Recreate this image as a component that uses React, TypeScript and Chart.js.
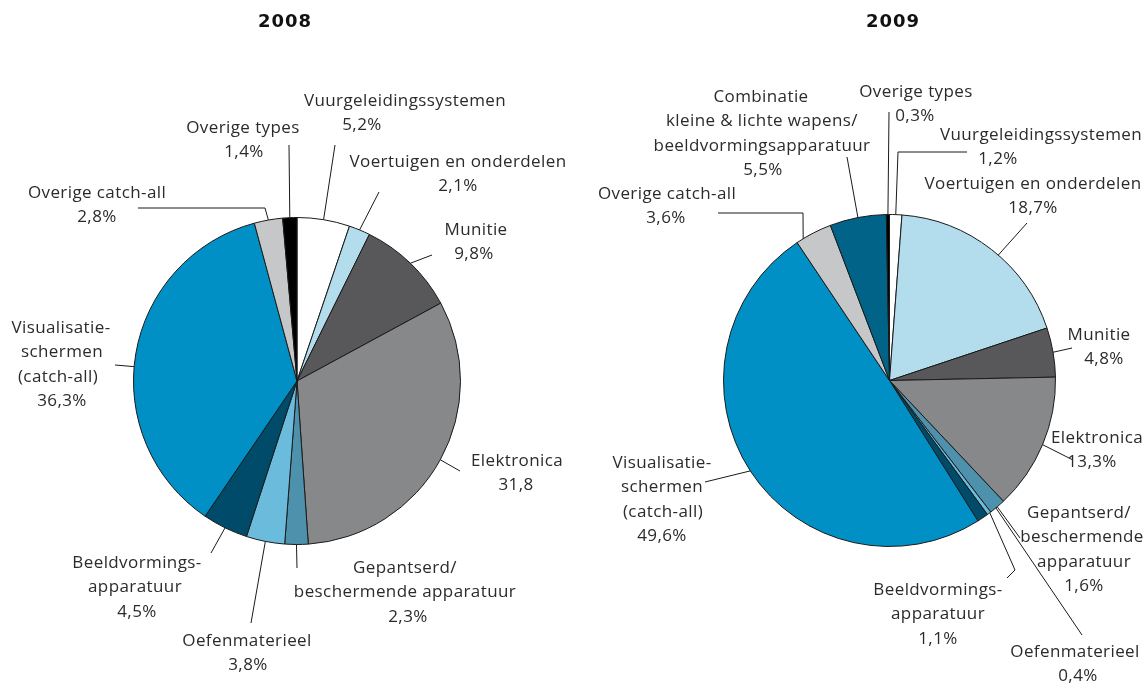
import React, { useEffect, useRef } from 'react';
import { Chart, registerables } from 'chart.js';

Chart.register(...registerables);

// ---------- DATA ----------
const title2008 = '2008';
const categories2008 = [
  'Vuurgeleidingssystemen', 'Voertuigen en onderdelen', 'Munitie', 'Elektronica',
  'Gepantserd/beschermende apparatuur', 'Oefenmaterieel', 'Beeldvormingsapparatuur',
  'Visualisatieschermen (catch-all)', 'Overige catch-all', 'Overige types',
];
const values2008 = [5.2, 2.1, 9.8, 31.8, 2.3, 3.8, 4.5, 36.3, 2.8, 1.4];
const names2008 = [
  ['Vuurgeleidingssystemen'],
  ['Voertuigen en onderdelen'],
  ['Munitie'],
  ['Elektronica'],
  ['Gepantserd/', 'beschermende apparatuur'],
  ['Oefenmaterieel'],
  ['Beeldvormings-', 'apparatuur'],
  ['Visualisatie-', 'schermen', '(catch-all)'],
  ['Overige catch-all'],
  ['Overige types'],
];

const title2009 = '2009';
const categories2009 = [
  'Vuurgeleidingssystemen', 'Voertuigen en onderdelen', 'Munitie', 'Elektronica',
  'Gepantserd/beschermende apparatuur', 'Oefenmaterieel', 'Beeldvormingsapparatuur',
  'Visualisatieschermen (catch-all)', 'Overige catch-all',
  'Combinatie kleine & lichte wapens/beeldvormingsapparatuur', 'Overige types',
];
const values2009 = [1.2, 18.7, 4.8, 13.3, 1.6, 0.4, 1.1, 49.6, 3.6, 5.5, 0.3];
const names2009 = [
  ['Vuurgeleidingssystemen'],
  ['Voertuigen en onderdelen'],
  ['Munitie'],
  ['Elektronica'],
  ['Gepantserd/', 'beschermende', 'apparatuur'],
  ['Oefenmaterieel'],
  ['Beeldvormings-', 'apparatuur'],
  ['Visualisatie-', 'schermen', '(catch-all)'],
  ['Overige catch-all'],
  ['Combinatie', 'kleine & lichte wapens/', 'beeldvormingsapparatuur'],
  ['Overige types'],
];

// ---------- STYLE / LAYOUT ----------
const W = 1145;
const H = 683;
const TEXT = '#2b2b2b';
const LINE = '#1a1a1a';
const FONT = '17px "Open Sans", "Noto Sans", sans-serif';
const TITLE_FONT = 'bold 18px "DejaVu Sans", sans-serif';
const LH = 24.5;

const colors2008 = ['#ffffff', '#b3dcec', '#58585a', '#87888a', '#4e91ad', '#6bbcdc', '#004b6a', '#0090c5', '#c6c7c8', '#000000'];
const colors2009 = ['#ffffff', '#b3dcec', '#58585a', '#87888a', '#4e91ad', '#6bbcdc', '#004b6a', '#0090c5', '#c6c7c8', '#006387', '#000000'];

type Lay = { x: number[]; y: number; pts: number[][]; da?: number; noPct?: boolean };

const layout2008: Lay[] = [
  { x: [405, 362], y: 101, pts: [[335, 145]] },
  { x: [458, 458], y: 162, pts: [[379, 192]] },
  { x: [476, 474], y: 230, pts: [[432, 255]] },
  { x: [517, 516], y: 461, pts: [[460, 471]], noPct: true },
  { x: [405, 405, 408], y: 568, pts: [[297, 568]] },
  { x: [247, 248], y: 641, pts: [[251, 623]] },
  { x: [137, 135, 137], y: 563, pts: [[211, 553]] },
  { x: [61, 62, 58, 62], y: 328, pts: [[115, 365]], da: -4.5 },
  { x: [97, 97], y: 193, pts: [[265, 208], [138, 208]] },
  { x: [243, 244], y: 128, pts: [[289, 145]] },
];

const layout2009: Lay[] = [
  { x: [1041, 998], y: 135, pts: [[898, 152], [967, 152]] },
  { x: [1033, 1033], y: 184, pts: [[1027, 223]], da: 3 },
  { x: [1099, 1104], y: 335, pts: [[1072, 348]] },
  { x: [1097, 1092], y: 438, pts: [[1073, 460]] },
  { x: [1079, 1082, 1084, 1084], y: 513, pts: [[1020, 538]] },
  { x: [1075, 1078], y: 652, pts: [[1082, 635]], da: -3 },
  { x: [938, 938, 938], y: 590, pts: [[1015, 570], [1007, 578]], da: -3 },
  { x: [662, 662, 663, 662], y: 463, pts: [[705, 482]] },
  { x: [667, 666], y: 194, pts: [[803, 213], [718, 213]], da: -4 },
  { x: [761, 762, 762, 763], y: 97, pts: [[847, 157]] },
  { x: [916, 915], y: 92, pts: [[889, 112]] },
];

const fmt = (v: number) => v.toFixed(1).replace('.', ',');

type Cfg = {
  title: string;
  titleX: number;
  categories: string[];
  values: number[];
  names: string[][];
  colors: string[];
  layout: Lay[];
  padding: { left: number; right: number; top: number; bottom: number };
};

const cfg2008: Cfg = {
  title: title2008, titleX: 285,
  categories: categories2008, values: values2008, names: names2008, colors: colors2008, layout: layout2008,
  padding: { left: 133, right: W - 461, top: 217, bottom: H - 545 },
};
const cfg2009: Cfg = {
  title: title2009, titleX: 893,
  categories: categories2009, values: values2009, names: names2009, colors: colors2009, layout: layout2009,
  padding: { left: 723, right: W - 1056, top: 214, bottom: H - 547 },
};

function makeLabelPlugin(cfg: Cfg) {
  return {
    id: 'leaderLabels',
    afterDraw(chart: any) {
      const ctx = chart.ctx as CanvasRenderingContext2D;
      const meta = chart.getDatasetMeta(0);
      ctx.save();
      ctx.strokeStyle = LINE;
      ctx.lineWidth = 1;
      ctx.fillStyle = TEXT;
      ctx.textAlign = 'center';
      ctx.textBaseline = 'middle';
      ctx.font = FONT;
      try { (ctx as any).letterSpacing = '0.4px'; } catch (e) {}
      meta.data.forEach((arc: any, i: number) => {
        const L = cfg.layout[i];
        if (!L) return;
        const p = arc.getProps(['x', 'y', 'startAngle', 'endAngle', 'outerRadius'], true);
        const a = (p.startAngle + p.endAngle) / 2 + ((L.da || 0) * Math.PI) / 180;
        const sx = p.x + Math.cos(a) * p.outerRadius;
        const sy = p.y + Math.sin(a) * p.outerRadius;
        ctx.beginPath();
        ctx.moveTo(sx, sy);
        L.pts.forEach(([x, y]) => ctx.lineTo(x, y));
        ctx.stroke();
        const lines = [...cfg.names[i], fmt(cfg.values[i]) + (L.noPct ? '' : '%')];
        lines.forEach((t, j) => ctx.fillText(t, L.x[j] ?? L.x[0], L.y + j * LH));
      });
      ctx.font = TITLE_FONT;
      ctx.fillStyle = '#111111';
      try { (ctx as any).letterSpacing = '1px'; } catch (e) {}
      ctx.fillText(cfg.title, cfg.titleX, 22);
      ctx.restore();
    },
  };
}

function PieChart({ cfg }: { cfg: Cfg }) {
  const ref = useRef<HTMLCanvasElement>(null);
  useEffect(() => {
    if (!ref.current) return;
    const chart = new Chart(ref.current, {
      type: 'pie',
      data: {
        labels: cfg.categories,
        datasets: [
          {
            data: cfg.values,
            backgroundColor: cfg.colors,
            borderColor: LINE,
            borderWidth: 1,
          },
        ],
      },
      options: {
        responsive: false,
        animation: false,
        layout: { padding: cfg.padding },
        plugins: {
          legend: { display: false },
          tooltip: { enabled: false },
          title: { display: false },
        },
      },
      plugins: [makeLabelPlugin(cfg)],
    } as any);
    return () => chart.destroy();
  }, [cfg]);
  return (
    <canvas
      ref={ref}
      width={W}
      height={H}
      style={{ position: 'absolute', left: 0, top: 0, width: W, height: H }}
    />
  );
}

export default function App() {
  return (
    <div style={{ position: 'absolute', left: 0, top: 0, width: W, height: H, background: '#ffffff' }}>
      <PieChart cfg={cfg2008} />
      <PieChart cfg={cfg2009} />
    </div>
  );
}
